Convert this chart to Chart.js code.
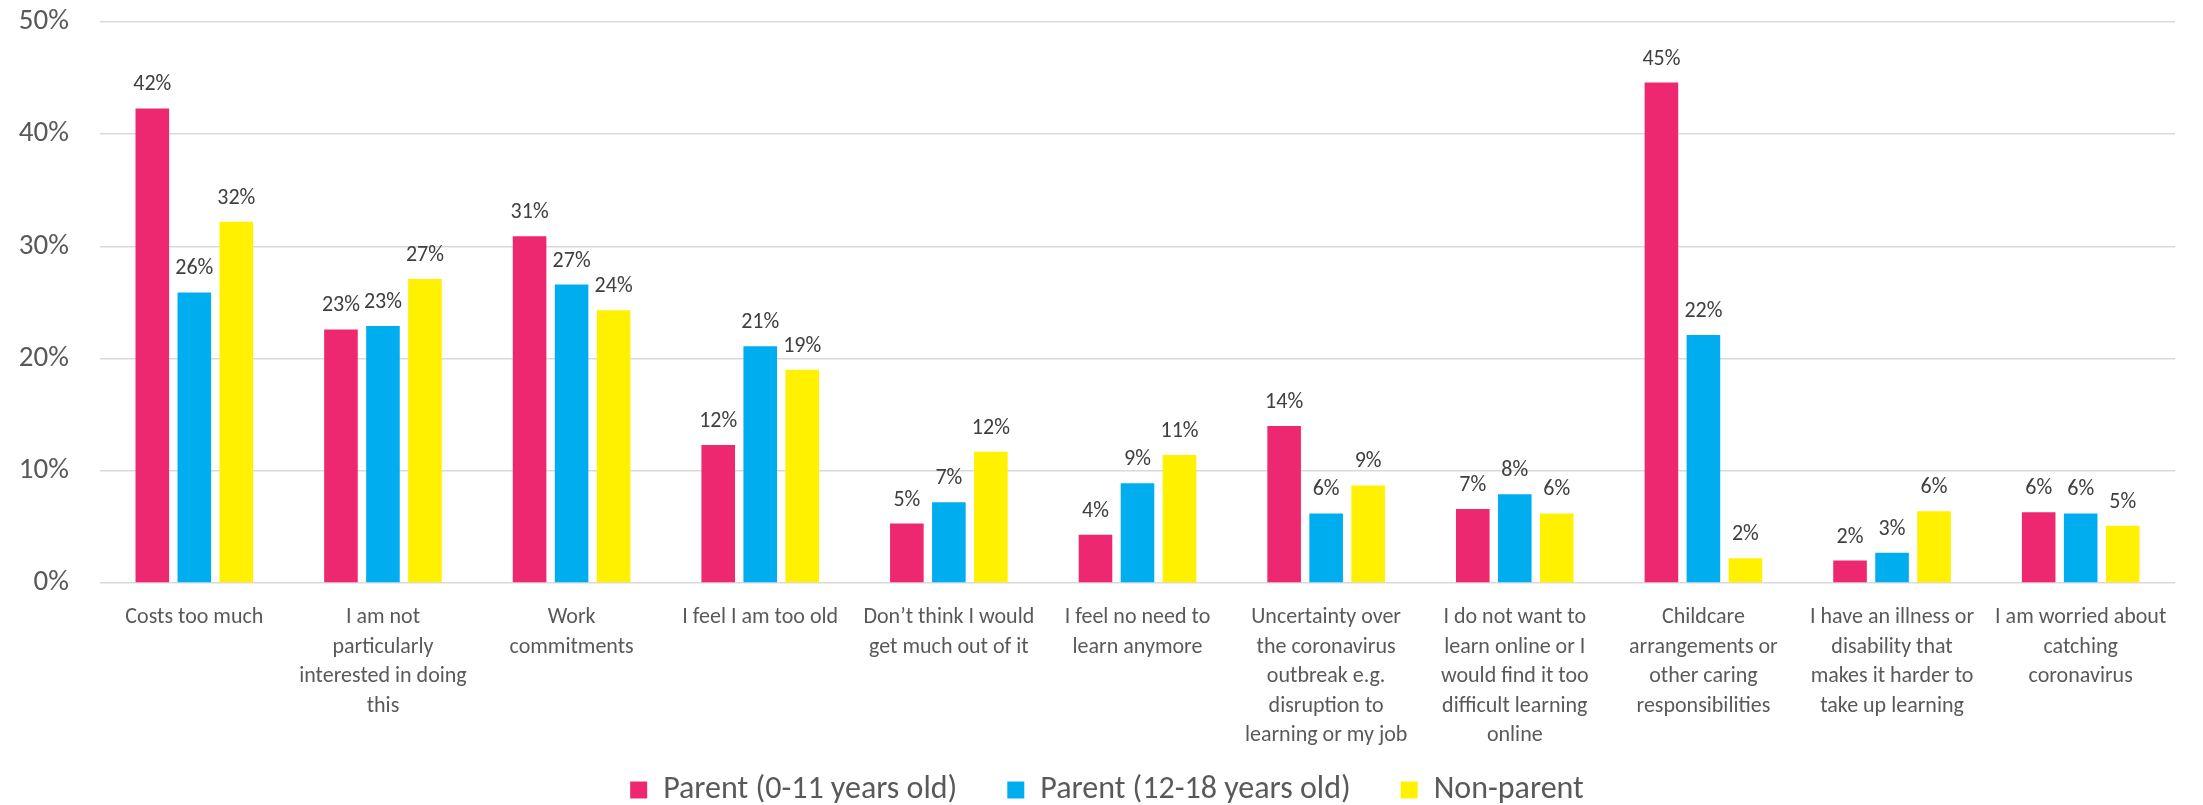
<!DOCTYPE html>
<html>
<head>
<meta charset="utf-8">
<script src="https://cdn.jsdelivr.net/npm/chart.js@4.4.1/dist/chart.umd.min.js"></script>
<style>
  html, body { margin: 0; padding: 0; background: #ffffff; }
  #contenedor { width: 2203px; height: 805px; position: relative; }
</style>
</head>
<body>
<div id="contenedor"><canvas id="grafico"></canvas></div>
<script>
// Categorías (ya partidas en líneas como en el original)
const categorias = [
    ["Costs too much"],
    ["I am not", "particularly", "interested in doing", "this"],
    ["Work", "commitments"],
    ["I feel I am too old"],
    ["Don’t think I would", "get much out of it"],
    ["I feel no need to", "learn anymore"],
    ["Uncertainty over", "the coronavirus", "outbreak e.g.", "disruption to", "learning or my job"],
    ["I do not want to", "learn online or I", "would find it too", "difficult learning", "online"],
    ["Childcare", "arrangements or", "other caring", "responsibilities"],
    ["I have an illness or", "disability that", "makes it harder to", "take up learning"],
    ["I am worried about", "catching", "coronavirus"]
];

// Valores en %
const padres0a11 = [42.3, 22.6, 30.9, 12.3, 5.3, 4.3, 14.0, 6.6, 44.6, 2.0, 6.3];
const padres12a18 = [25.9, 22.9, 26.6, 21.1, 7.2, 8.9, 6.2, 7.9, 22.1, 2.7, 6.2];
const noPadres = [32.2, 27.1, 24.3, 19.0, 11.7, 11.4, 8.7, 6.2, 2.2, 6.4, 5.1];

const nombresSeries = ["Parent (0-11 years old)", "Parent (12-18 years old)", "Non-parent"];
const colores = ["#EE2870", "#00AEEF", "#FFF100"];

const fuente = 'Carlito, Calibri, "Liberation Sans Narrow", Lato, sans-serif';

// Plugin sencillo para poner el % encima de cada barra
const etiquetasPlugin = {
    id: 'etiquetas',
    afterDatasetsDraw(chart) {
        const ctx = chart.ctx;
        ctx.save();
        ctx.font = '22px ' + fuente;
        ctx.fillStyle = '#404040';
        ctx.textAlign = 'center';
        ctx.textBaseline = 'alphabetic';
        chart.data.datasets.forEach((ds, i) => {
            const meta = chart.getDatasetMeta(i);
            meta.data.forEach((bar, j) => {
                ctx.fillText(Math.round(ds.data[j]) + '%', bar.x, bar.y - 18);
            });
        });
        ctx.restore();
    }
};

const ctx = document.getElementById('grafico').getContext('2d');

new Chart(ctx, {
    type: 'bar',
    data: {
        labels: categorias,
        datasets: [padres0a11, padres12a18, noPadres].map((serie, i) => ({
            label: nombresSeries[i],
            data: serie,
            backgroundColor: colores[i],
            categoryPercentage: 0.668,
            barPercentage: 0.8
        }))
    },
    options: {
        responsive: true,
        maintainAspectRatio: false,
        animation: false,
        layout: {
            padding: { top: 22, right: 28, left: 39, bottom: -11 }
        },
        plugins: {
            legend: {
                position: 'bottom',
                labels: {
                    boxWidth: 17,
                    boxHeight: 17,
                    padding: 50,
                    color: '#595959',
                    font: { family: fuente, size: 32 }
                }
            },
            tooltip: { enabled: false }
        },
        scales: {
            x: {
                grid: { display: false },
                border: { display: false },
                ticks: {
                    color: '#595959',
                    font: { family: fuente, size: 22, lineHeight: 1.34 },
                    padding: 12,
                    autoSkip: false,
                    maxRotation: 0,
                    minRotation: 0
                },
                afterFit: (scale) => {
                    scale.height = 141;
                    // las etiquetas de 5 líneas se salen del eje: no recortarlas
                    scale._computeLabelArea = () => undefined;
                }
            },
            y: {
                min: 0,
                max: 50,
                border: { display: false },
                grid: { color: '#D9D9D9', lineWidth: 1.5, drawTicks: false },
                ticks: {
                    stepSize: 10,
                    color: '#595959',
                    padding: 31,
                    font: { family: fuente, size: 29 },
                    callback: (v) => v + '%'
                },
                afterFit: (scale) => {
                    scale.width = 61;
                    scale.paddingTop = 0;
                    scale.paddingBottom = 0;
                    // el eje es más estrecho que sus etiquetas: tampoco recortarlas
                    scale._computeLabelArea = () => undefined;
                }
            }
        }
    },
    plugins: [etiquetasPlugin]
});
</script>
</body>
</html>
